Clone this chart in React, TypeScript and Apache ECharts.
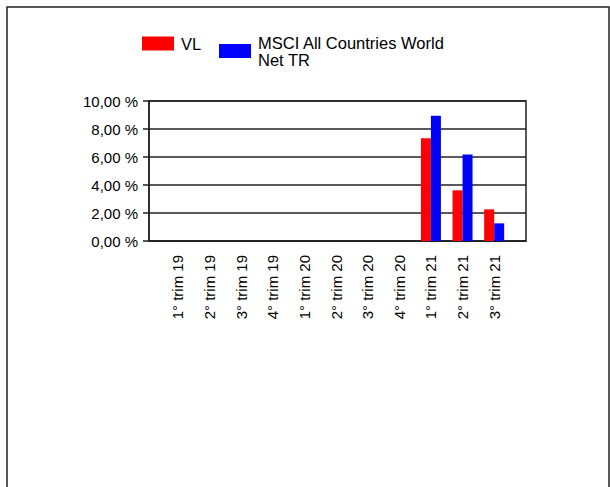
import React, { useEffect, useRef } from "react";
import * as echarts from "echarts";

const categories = [
  "1° trim 19", "2° trim 19", "3° trim 19", "4° trim 19",
  "1° trim 20", "2° trim 20", "3° trim 20", "4° trim 20",
  "1° trim 21", "2° trim 21", "3° trim 21",
];
const vlValues = [null, null, null, null, null, null, null, null, 7.34, 3.62, 2.26];
const msciValues = [null, null, null, null, null, null, null, null, 8.95, 6.17, 1.26];
const seriesNames = ["VL", "MSCI All Countries World Net TR"];
const yTicks = { min: 0, max: 10, interval: 2 };

const FONT = "'Liberation Sans', Arial, sans-serif";

export default function App() {
  const ref = useRef<HTMLDivElement>(null);
  useEffect(() => {
    if (!ref.current) return;
    const chart = echarts.init(ref.current, null, { renderer: "svg" });
    const fmt = (v: number) => v.toFixed(2).replace(".", ",") + " %";
    const legendText = { fontSize: 16.5, fontFamily: FONT, color: "#000", lineHeight: 17, padding: [0, 0, 0, 2] };
    chart.setOption({
      animation: false,
      backgroundColor: "#fff",
      graphic: [
        {
          type: "rect",
          shape: { x: 7, y: 7, width: 602, height: 500 },
          style: { fill: "none", stroke: "#222", lineWidth: 1.5 },
          silent: true,
        },
      ],
      legend: [
        {
          data: [seriesNames[0]],
          icon: "rect",
          left: 142,
          top: 35,
          padding: 0,
          itemWidth: 32,
          itemHeight: 14,
          itemStyle: { borderWidth: 0 },
          textStyle: legendText,
        },
        {
          data: [seriesNames[1]],
          icon: "rect",
          left: 219,
          top: 34,
          padding: 0,
          itemWidth: 32,
          itemHeight: 14,
          itemStyle: { borderWidth: 0 },
          formatter: () => "MSCI All Countries World\nNet TR",
          textStyle: legendText,
        },
      ],
      grid: [
        { left: 149, top: 101, width: 377, height: 140, show: true, borderColor: "#222", borderWidth: 1.5, backgroundColor: "transparent" },
        { left: 162, top: 101, width: 348, height: 140 },
      ],
      xAxis: [
        {
          gridIndex: 0,
          type: "value",
          min: 0,
          max: 1,
          axisLine: { show: true, lineStyle: { color: "#222", width: 1.5 } },
          axisTick: { show: false },
          axisLabel: { show: false },
          splitLine: { show: false },
        },
        {
          gridIndex: 1,
          type: "category",
          data: categories,
          axisLine: { show: false },
          axisTick: { show: false },
          axisLabel: {
            rotate: 90,
            margin: 14,
            interval: 0,
            fontSize: 15,
            fontFamily: FONT,
            color: "#000",
          },
        },
      ],
      yAxis: [
        {
          gridIndex: 0,
          type: "value",
          min: yTicks.min,
          max: yTicks.max,
          interval: yTicks.interval,
          axisLine: { show: true, lineStyle: { color: "#222", width: 1.5 } },
          axisTick: { show: true, length: 6, lineStyle: { color: "#222", width: 1.5 } },
          axisLabel: { formatter: fmt, margin: 11, fontSize: 15, fontFamily: FONT, color: "#000" },
          splitLine: { show: true, lineStyle: { color: "#222", width: 1.5 } },
        },
        {
          gridIndex: 1,
          type: "value",
          min: yTicks.min,
          max: yTicks.max,
          interval: yTicks.interval,
          show: false,
          splitLine: { show: false },
        },
      ],
      series: [
        {
          name: seriesNames[0],
          type: "bar",
          xAxisIndex: 1,
          yAxisIndex: 1,
          data: vlValues,
          barWidth: 10,
          barGap: "0%",
          itemStyle: { color: "#ff0000" },
        },
        {
          name: seriesNames[1],
          type: "bar",
          xAxisIndex: 1,
          yAxisIndex: 1,
          data: msciValues,
          barWidth: 10,
          barGap: "0%",
          itemStyle: { color: "#0000ff" },
        },
      ],
    });
    return () => chart.dispose();
  }, []);
  return (
    <div
      ref={ref}
      style={{ position: "fixed", left: 0, top: 0, width: 610, height: 487 }}
    />
  );
}
